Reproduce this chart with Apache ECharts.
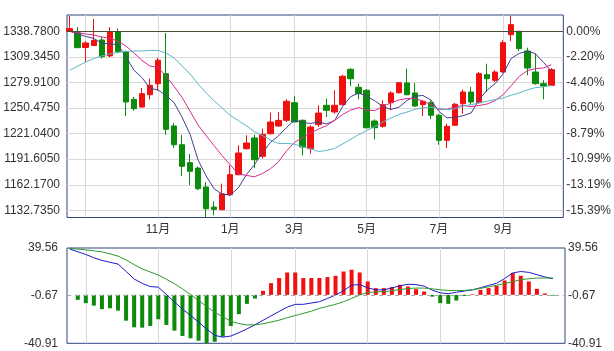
<!DOCTYPE html>
<html><head><meta charset="utf-8">
<script src="https://cdn.jsdelivr.net/npm/echarts@6/dist/echarts.min.js"></script>
<style>html,body{margin:0;padding:0;background:#fff}#c{width:614px;height:351px}</style>
</head><body><div id="c"></div>
<script>
// Weekly bars (Friday dates)
const dates = ['2016-08-19','2016-08-26','2016-09-02','2016-09-09','2016-09-16','2016-09-23','2016-09-30','2016-10-07','2016-10-14','2016-10-21','2016-10-28','2016-11-04','2016-11-11','2016-11-18','2016-11-25','2016-12-02','2016-12-09','2016-12-16','2016-12-23','2016-12-30','2017-01-06','2017-01-13','2017-01-20','2017-01-27','2017-02-03','2017-02-10','2017-02-17','2017-02-24','2017-03-03','2017-03-10','2017-03-17','2017-03-24','2017-03-31','2017-04-07','2017-04-14','2017-04-21','2017-04-28','2017-05-05','2017-05-12','2017-05-19','2017-05-26','2017-06-02','2017-06-09','2017-06-16','2017-06-23','2017-06-30','2017-07-07','2017-07-14','2017-07-21','2017-07-28','2017-08-04','2017-08-11','2017-08-18','2017-08-25','2017-09-01','2017-09-08','2017-09-15','2017-09-22','2017-09-29','2017-10-06','2017-10-13'];
const opens  = [1338.5,1337.2,1320.1,1322.4,1328.8,1310.4,1338.3,1315.0,1260.5,1251.6,1265.8,1278.5,1290.0,1229.8,1208.2,1187.6,1181.4,1159.6,1136.5,1133.4,1150.7,1173.8,1203.6,1216.0,1194.9,1220.9,1229.8,1236.3,1256.6,1236.3,1203.6,1231.3,1253.6,1245.9,1254.3,1295.0,1274.3,1270.9,1235.5,1229.4,1256.6,1268.1,1279.3,1267.8,1254.3,1256.6,1242.1,1213.3,1230.6,1255.4,1268.9,1256.6,1288.8,1282.4,1291.9,1334.9,1338.8,1316.1,1291.9,1278.5,1276.6];
const closes = [1341.8,1319.9,1325.3,1328.2,1309.5,1338.3,1315.3,1257.4,1249.7,1267.0,1276.6,1305.4,1226.0,1208.2,1183.4,1177.7,1157.6,1134.6,1133.9,1151.8,1173.8,1198.7,1210.2,1191.0,1220.2,1234.4,1236.3,1258.2,1234.4,1205.6,1228.6,1244.7,1247.8,1253.6,1287.0,1284.2,1267.0,1227.8,1227.8,1254.3,1267.8,1279.6,1265.8,1252.8,1258.2,1242.1,1213.3,1229.4,1254.8,1268.9,1257.4,1290.0,1284.2,1291.9,1325.7,1346.4,1318.8,1296.5,1278.5,1275.8,1294.6];
const lows   = [1338.0,1319.5,1303.4,1322.2,1307.5,1308.9,1313.5,1241.3,1247.4,1250.8,1260.5,1270.9,1219.8,1204.4,1172.2,1161.9,1156.1,1124.5,1126.9,1133.0,1149.2,1173.0,1202.5,1181.4,1192.1,1219.8,1228.6,1234.4,1234.0,1196.0,1197.9,1228.6,1240.1,1243.9,1253.6,1275.8,1260.5,1226.7,1214.5,1227.8,1247.8,1267.0,1265.1,1251.6,1241.3,1237.5,1208.2,1204.4,1229.8,1243.9,1254.3,1255.4,1268.9,1280.4,1291.1,1327.3,1316.1,1288.1,1277.3,1260.5,1275.8];
const highs  = [1356.4,1343.7,1327.3,1352.9,1332.2,1343.4,1342.2,1316.7,1263.2,1273.5,1284.2,1308.1,1336.8,1233.2,1219.4,1197.5,1183.2,1165.3,1143.1,1163.4,1184.5,1207.6,1219.1,1219.8,1226.7,1245.1,1245.9,1260.5,1264.0,1237.5,1230.6,1253.6,1261.2,1270.9,1288.8,1296.5,1278.5,1272.0,1237.5,1259.4,1269.7,1280.4,1295.7,1279.3,1259.4,1259.4,1243.9,1232.4,1256.3,1271.6,1274.7,1291.9,1301.5,1293.9,1328.4,1356.4,1338.8,1319.9,1313.0,1282.4,1296.5];
const ma5  = [1339.1,1335.7,1332.8,1330.5,1325.0,1324.3,1323.4,1309.8,1294.0,1285.5,1273.2,1271.2,1264.9,1256.6,1239.9,1220.1,1190.5,1172.3,1157.4,1151.2,1150.4,1158.5,1173.7,1185.1,1198.8,1210.9,1218.4,1228.0,1236.7,1233.8,1232.7,1234.3,1232.2,1236.1,1252.3,1263.5,1267.9,1264.0,1258.8,1252.2,1248.9,1251.4,1259.0,1264.1,1264.9,1259.7,1246.5,1239.2,1239.6,1241.7,1244.7,1260.1,1271.1,1278.5,1289.9,1307.6,1313.3,1315.9,1313.1,1303.2,1292.9];
const ma10 = [1338.6,1336.8,1335.7,1334.5,1332.2,1330.5,1327.6,1321.9,1313.8,1305.3,1298.7,1297.2,1287.3,1275.4,1262.7,1246.7,1230.9,1218.6,1207.0,1195.5,1185.2,1174.5,1173.0,1171.3,1175.0,1180.6,1188.5,1200.9,1210.9,1216.3,1221.7,1226.3,1230.1,1236.3,1243.0,1248.1,1251.1,1248.1,1247.4,1252.3,1256.3,1259.7,1261.4,1261.4,1258.6,1254.3,1249.0,1249.1,1251.8,1253.3,1252.2,1253.3,1255.1,1259.0,1265.8,1276.2,1286.8,1293.4,1295.8,1296.5,1300.2];
const ma20 = [1293.9,1298.8,1303.4,1307.5,1310.4,1312.7,1314.4,1315.5,1316.1,1316.1,1316.7,1316.7,1313.8,1308.1,1298.8,1289.6,1278.1,1267.8,1258.6,1250.4,1242.0,1235.9,1230.1,1223.3,1218.8,1213.7,1209.6,1209.7,1208.9,1205.9,1203.5,1200.4,1201.6,1203.9,1209.1,1214.4,1219.8,1224.5,1229.2,1234.3,1239.0,1243.0,1245.8,1248.9,1250.8,1251.2,1250.0,1248.5,1249.6,1252.8,1254.2,1256.5,1258.3,1260.2,1262.1,1265.2,1267.9,1271.3,1273.9,1274.9,1276.3];
const dif  = [38.7,36.4,34.1,31.3,29.1,27.5,26.0,19.8,13.4,9.7,7.0,6.5,0.3,-5.9,-12.0,-17.4,-23.0,-28.9,-34.2,-35.7,-34.8,-31.9,-28.8,-25.2,-21.5,-17.7,-14.0,-10.4,-8.0,-8.0,-6.9,-5.8,-3.0,-0.2,3.5,8.2,8.7,5.9,4.2,4.2,5.9,7.6,9.0,8.6,7.4,4.0,1.7,1.0,2.2,3.2,4.2,6.0,8.0,9.8,13.8,18.5,19.7,19.0,17.0,15.1,13.6];
const dea  = [39.3,38.6,38.0,37.2,36.3,34.6,32.7,29.5,25.5,21.9,19.3,16.7,13.2,9.5,5.0,0.3,-4.7,-9.9,-14.7,-18.5,-22.3,-24.2,-25.4,-25.4,-24.4,-23.0,-21.4,-19.3,-17.4,-15.6,-13.8,-11.4,-9.7,-8.0,-5.8,-3.0,-0.2,2.0,2.4,2.7,3.5,4.4,5.4,5.7,5.7,5.1,4.3,3.7,3.7,3.7,4.4,5.4,6.8,8.1,9.6,11.0,12.8,13.6,14.2,14.2,14.2];
const macdHist = [0,-4.2,-7.0,-9.1,-12.1,-11.3,-13.3,-21.8,-27.4,-27.7,-26.3,-20.6,-25.4,-30.2,-34.7,-36.7,-38.7,-40.9,-39.6,-35.3,-26.3,-16.3,-7.6,-3.1,3.4,9.9,14.2,18.9,18.9,14.2,14.2,14.2,15.0,16.1,19.7,21.2,18.9,11.3,5.7,5.7,6.5,8.5,7.0,4.8,2.8,-1.5,-7.0,-7.6,-4.8,-1.0,0.5,4.2,5.7,7.6,12.1,18.4,16.1,11.3,5.1,1.2,-0.6];
const priceTicks = [1132.735,1162.17,1191.605,1221.04,1250.475,1279.91,1309.345,1338.78];
const priceBase = 1338.78;
const macdTicks = [-40.91,-0.67,39.56];
const macdTickLabels = ['-40.91','-0.67','39.56'];

const monthOf = d => +d.slice(5,7);
const monthTicks = dates.map((d,i)=> (i>0 && monthOf(d)!==monthOf(dates[i-1]) && monthOf(d)%2===1) ? i : -1).filter(i=>i>=0);
const monthLabelTicks = monthTicks.slice(1);

const FONT = '"Liberation Sans", Arial, "Noto Sans CJK SC", sans-serif';
const FRAME = '#2e4583';
const GRIDC = '#d9d9d9';
const UP = '#f01010', DOWN = '#0b8a0b';

const xBase = {
  type:'value', min:-0.335, max:61.49,
  axisLine:{show:false}, axisTick:{show:false, customValues: monthTicks},
  splitLine:{show:true, lineStyle:{color:GRIDC, width:1}}
};

const chart = echarts.init(document.getElementById('c'), null, {renderer:'canvas'});
chart.setOption({
  animation:false,
  backgroundColor:'#fff',
  textStyle:{fontFamily:FONT},
  grid:[
    {left:67, right:49, top:15, bottom:133.5, show:true, borderColor:FRAME, borderWidth:1, backgroundColor:'transparent'},
    {left:67, right:49, top:248, bottom:7.7, show:true, borderColor:FRAME, borderWidth:1, backgroundColor:'transparent'}
  ],
  xAxis:[
    Object.assign({}, xBase, {gridIndex:0,
      axisLabel:{show:true, customValues: monthLabelTicks, margin:6, fontSize:12, color:'#333', fontFamily:FONT,
        formatter: v => monthOf(dates[Math.round(v)]) + '月'}}),
    Object.assign({}, xBase, {gridIndex:1, axisLabel:{show:false}})
  ],
  yAxis:[
    {type:'value', gridIndex:0, min:1124.5, max:1357.5, position:'left',
      axisLine:{show:false}, axisTick:{show:false, customValues: priceTicks},
      axisLabel:{customValues: priceTicks, formatter: v => v.toFixed(4), fontSize:12, color:'#333', margin:7, fontFamily:FONT},
      splitLine:{show:true, lineStyle:{color:GRIDC, width:1}}},
    {type:'value', gridIndex:0, min:1124.5, max:1357.5, position:'right',
      axisLine:{show:false}, axisTick:{show:false, customValues: priceTicks},
      axisLabel:{customValues: priceTicks, formatter: v => ((v-priceBase)/priceBase*100).toFixed(2)+'%', fontSize:12, color:'#333', margin:3, fontFamily:FONT},
      splitLine:{show:false}},
    {type:'value', gridIndex:1, min:macdTicks[0], max:macdTicks[2], position:'left',
      axisLine:{show:false}, axisTick:{show:false, customValues: macdTicks},
      axisLabel:{customValues: macdTicks, formatter: (v) => macdTickLabels[macdTicks.indexOf(v)] ?? v, fontSize:12, color:'#333', margin:9, fontFamily:FONT},
      splitLine:{show:false}},
    {type:'value', gridIndex:1, min:macdTicks[0], max:macdTicks[2], position:'right',
      axisLine:{show:false}, axisTick:{show:false, customValues: macdTicks},
      axisLabel:{customValues: macdTicks, formatter: (v) => macdTickLabels[macdTicks.indexOf(v)] ?? v, fontSize:12, color:'#333', margin:3, fontFamily:FONT},
      splitLine:{show:false}}
  ],
  series:[
    {type:'candlestick', xAxisIndex:0, yAxisIndex:0, barWidth:6,
      data: dates.map((d,i)=>[i, opens[i], closes[i], lows[i], highs[i]]),
      encode:{x:0, y:[1,2,3,4]},
      itemStyle:{color:UP, color0:DOWN, borderColor:UP, borderColor0:DOWN, borderWidth:1},
      markLine:{silent:true, symbol:['none','none'], label:{show:false},
        lineStyle:{color:'#4e4d33', width:1, type:'solid'}, data:[{yAxis:priceBase}]}},
    {type:'line', xAxisIndex:0, yAxisIndex:0, data: ma5.map((v,i)=>[i,v]), symbol:'none',
      lineStyle:{color:'#3f3f8f', width:1}},
    {type:'line', xAxisIndex:0, yAxisIndex:0, data: ma10.map((v,i)=>[i,v]), symbol:'none',
      lineStyle:{color:'#d92a8a', width:1}},
    {type:'line', xAxisIndex:0, yAxisIndex:0, data: ma20.map((v,i)=>[i,v]), symbol:'none',
      lineStyle:{color:'#5cb6c8', width:1}},
    {type:'bar', xAxisIndex:1, yAxisIndex:2, barWidth:4,
      data: macdHist.map((v,i)=>({value:[i,v], itemStyle:{color: v>=0 ? UP : DOWN}})),
      markLine:{silent:true, symbol:['none','none'], label:{show:false},
        lineStyle:{color:'#aaaaaa', width:1, type:[4,4]}, data:[{yAxis:macdTicks[1]}]}},
    {type:'line', xAxisIndex:1, yAxisIndex:2, data: dif.map((v,i)=>[i,v]), symbol:'none',
      lineStyle:{color:'#1c1ccc', width:1}},
    {type:'line', xAxisIndex:1, yAxisIndex:2, data: dea.map((v,i)=>[i,v]), symbol:'none',
      lineStyle:{color:'#2e9a2e', width:1}}
  ]
});
</script>
</body></html>
